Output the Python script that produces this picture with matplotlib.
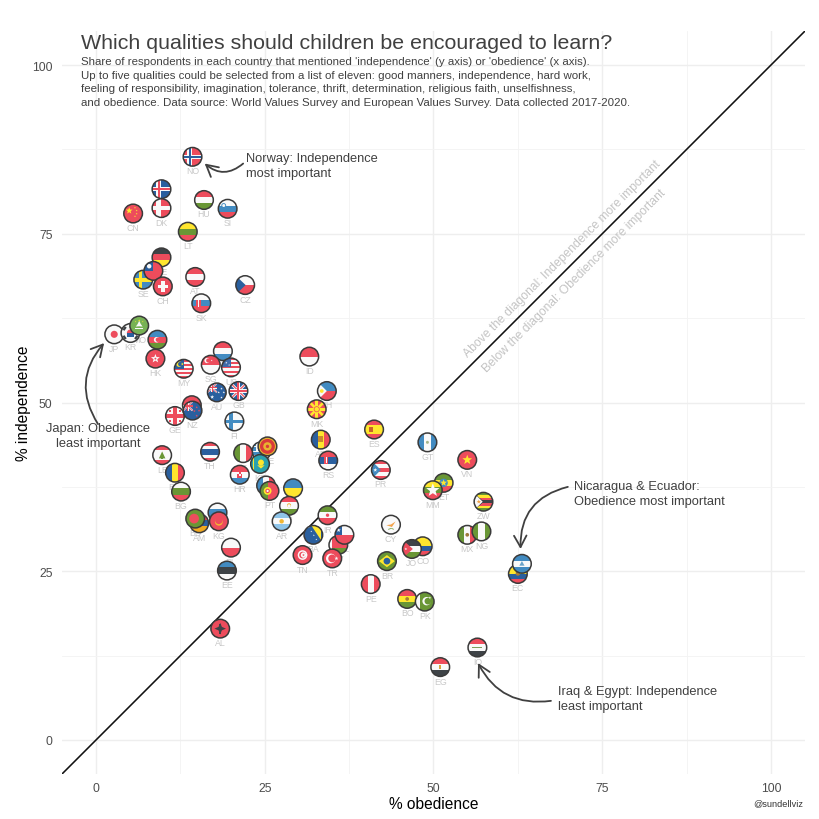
import numpy as np
import matplotlib
matplotlib.use("Agg")
import matplotlib.pyplot as plt
from matplotlib.patches import Circle, Rectangle, Polygon, FancyArrowPatch
from matplotlib.transforms import Affine2D

plt.rcParams["font.family"] = ["Liberation Sans", "DejaVu Sans"]

# draw order matters, later countries sit on top. XA and XB are hidden behind NZ and PT, codes unreadable
codes = ["XA", "GE", "NZ", "JP", "KR", "MO", "AZ", "HK", "DE", "SE", "TW", "CH",
         "NL", "SG", "US", "GR", "IT", "KZ", "ME", "XB", "PT", "HR", "UA", "TJ", "AR",
         "RU", "KG", "AM", "BD", "BY", "CL", "TR", "CO", "JO", "BO", "PK", "ET", "MM",
         "MX", "NG", "EC", "NI", "NO", "IS", "DK", "CN", "HU", "SI", "LT", "AT", "CZ",
         "SK", "MY", "AU", "GB", "FI", "LB", "TH", "RO", "BG", "PL", "EE", "AL", "BA",
         "TN", "ID", "PH", "MK", "AD", "RS", "ES", "PR", "IR", "CY", "BR", "PE", "GT",
         "VN", "ZW", "IQ", "EG"]
obedience = [14.2, 11.7, 14.3, 2.7, 5.1, 6.4, 9.1, 8.8, 9.7, 7.0, 8.5, 9.9,
             18.8, 17.0, 20.0, 24.5, 21.8, 24.3, 25.4, 25.2, 25.7, 21.3, 29.2, 28.6, 27.5,
             18.0, 18.2, 15.3, 14.7, 35.9, 36.8, 35.0, 48.4, 46.8, 46.1, 48.7, 51.5, 49.9,
             55.0, 57.1, 62.5, 63.1, 14.3, 9.7, 9.7, 5.5, 16.0, 19.5, 13.6, 14.7, 22.1,
             15.6, 13.0, 17.9, 21.1, 20.5, 9.8, 16.9, 11.7, 12.6, 20.0, 19.4, 18.4, 32.2,
             30.6, 31.6, 34.2, 32.7, 33.3, 34.4, 41.2, 42.2, 34.3, 43.7, 43.1, 40.7, 49.1,
             55.0, 57.4, 56.5, 51.0]
independence = [49.6, 48.0, 48.8, 60.1, 60.3, 61.4, 59.3, 56.5, 71.5, 68.2, 69.5, 67.2,
                57.6, 55.6, 55.2, 42.8, 42.5, 40.9, 43.5, 37.7, 36.9, 39.3, 37.3, 34.7, 32.4,
                33.7, 32.4, 32.1, 32.8, 28.9, 30.4, 26.9, 28.7, 28.3, 20.9, 20.5, 38.1, 37.0,
                30.4, 30.9, 24.6, 26.1, 86.4, 81.6, 78.8, 78.0, 80.0, 78.7, 75.3, 68.6, 67.4,
                64.7, 55.0, 51.5, 51.7, 47.2, 42.2, 42.7, 39.6, 36.8, 28.5, 25.1, 16.5, 30.4,
                27.4, 56.8, 51.7, 49.0, 44.5, 41.4, 46.0, 40.0, 33.3, 31.9, 26.5, 23.1, 44.1,
                41.5, 35.3, 13.7, 10.8]
hidden_labels = ["XA", "XB"]

tick_values = [0, 25, 50, 75, 100]
minor_values = [12.5, 37.5, 62.5, 87.5]

title = "Which qualities should children be encouraged to learn?"
subtitle_lines = ["Share of respondents in each country that mentioned 'independence' (y axis) or 'obedience' (x axis).",
                  "Up to five qualities could be selected from a list of eleven: good manners, independence, hard work,",
                  "feeling of responsibility, imagination, tolerance, thrift, determination, religious faith, unselfishness,",
                  "and obedience. Data source: World Values Survey and European Values Survey. Data collected 2017-2020."]

R, B, LB, W, G, Y, K, O = "#ed4c5c", "#2a5f9e", "#428bc1", "#f9f9f9", "#699635", "#ffe62e", "#3e4347", "#f7a329"


def rect(x0, y0, x1, y1, c):
    return [Rectangle((x0, y0), x1 - x0, y1 - y0, fc=c, lw=0)]


def hs(*cols, w=None):
    w = w or [1] * len(cols)
    edges = 1 - 2 * np.cumsum([0] + list(w)) / sum(w)
    out = []
    for i, c in enumerate(cols):
        out += rect(-1, edges[i + 1], 1, edges[i], c)
    return out


def vs(*cols, w=None):
    w = w or [1] * len(cols)
    edges = -1 + 2 * np.cumsum([0] + list(w)) / sum(w)
    out = []
    for i, c in enumerate(cols):
        out += rect(edges[i], -1, edges[i + 1], 1, c)
    return out


def disc(x, y, r, c):
    return [Circle((x, y), r, fc=c, lw=0)]


def poly(pts, c):
    return [Polygon(pts, closed=True, fc=c, lw=0)]


def star(x, y, r, c, n=5):
    a = np.pi / 2 + np.arange(2 * n) * np.pi / n
    rr = np.where(np.arange(2 * n) % 2 == 0, r, r * 0.42)
    return poly(np.c_[x + rr * np.cos(a), y + rr * np.sin(a)], c)


def bar(x0, y0, x1, y1, w, c):
    d = np.array([y1 - y0, x0 - x1], dtype=float)
    d = d / np.hypot(*d) * w / 2
    return poly([(x0 + d[0], y0 + d[1]), (x1 + d[0], y1 + d[1]),
                 (x1 - d[0], y1 - d[1]), (x0 - d[0], y0 - d[1])], c)


def crescent(x, y, r, c, bg, dx=0.13):
    return disc(x, y, r, c) + disc(x + dx, y, r * 0.8, bg)


def nordic(bg, cross, inner=None):
    out = rect(-1, -1, 1, 1, bg) + rect(-1, -0.24, 1, 0.24, cross) + rect(-0.55, -1, -0.07, 1, cross)
    if inner:
        out += rect(-1, -0.1, 1, 0.1, inner) + rect(-0.41, -1, -0.21, 1, inner)
    return out


def jack(x0=-1, y0=-1, x1=1, y1=1, s=1.0):
    cx, cy = (x0 + x1) / 2, (y0 + y1) / 2
    out = []
    out += bar(x0, y1, x1, y0, 0.3 * s, W) + bar(x0, y0, x1, y1, 0.3 * s, W)
    out += bar(x0, y1, x1, y0, 0.12 * s, R) + bar(x0, y0, x1, y1, 0.12 * s, R)
    out += rect(x0, cy - 0.2 * s, x1, cy + 0.2 * s, W) + rect(cx - 0.2 * s, y0, cx + 0.2 * s, y1, W)
    out += rect(x0, cy - 0.11 * s, x1, cy + 0.11 * s, R) + rect(cx - 0.11 * s, y0, cx + 0.11 * s, y1, R)
    return out


def stripes(c1, c2, n):
    return hs(*[c1 if i % 2 == 0 else c2 for i in range(n)])


FLAGS = {
    "XA": hs(R, W),
    "GE": rect(-1, -1, 1, 1, W) + rect(-1, -0.17, 1, 0.17, R) + rect(-0.17, -1, 0.17, 1, R)
          + rect(-0.62, 0.42, -0.42, 0.62, R) + rect(0.42, 0.42, 0.62, 0.62, R)
          + rect(-0.62, -0.62, -0.42, -0.42, R) + rect(0.42, -0.62, 0.62, -0.42, R),
    "NZ": rect(-1, -1, 1, 1, B) + rect(-1, 0, 0, 1, "#3f6aa8") + jack(-1, 0, 0, 1, 0.6)
          + star(0.45, 0.35, 0.14, R) + star(0.2, -0.05, 0.14, R) + star(0.7, 0.0, 0.14, R) + star(0.45, -0.55, 0.14, R),
    "JP": rect(-1, -1, 1, 1, W) + disc(0, 0, 0.38, R),
    "KR": rect(-1, -1, 1, 1, W) + disc(0, 0, 0.38, R) + rect(-0.38, -0.38, 0.38, -0.02, B)
          + bar(-0.75, 0.3, -0.5, 0.65, 0.25, K) + bar(0.5, -0.65, 0.75, -0.3, 0.25, K)
          + bar(0.5, 0.65, 0.75, 0.3, 0.25, K) + bar(-0.75, -0.3, -0.5, -0.65, 0.25, K),
    "MO": rect(-1, -1, 1, 1, "#77b255") + star(0, 0.1, 0.42, W, 3) + rect(-0.4, -0.4, 0.4, -0.28, W)
          + star(0, 0.55, 0.12, Y) + star(-0.38, 0.42, 0.09, Y) + star(0.38, 0.42, 0.09, Y),
    "AZ": hs(LB, R, G) + crescent(-0.08, 0, 0.3, W, R),
    "HK": rect(-1, -1, 1, 1, R) + star(0, 0, 0.5, W) + disc(0, 0, 0.1, R),
    "DE": hs(K, R, Y),
    "SE": rect(-1, -1, 1, 1, LB) + rect(-1, -0.2, 1, 0.2, Y) + rect(-0.5, -1, -0.1, 1, Y),
    "TW": rect(-1, -1, 1, 1, R) + rect(-1, 0, 0, 1, B) + disc(-0.45, 0.5, 0.24, W),
    "CH": rect(-1, -1, 1, 1, R) + rect(-0.55, -0.18, 0.55, 0.18, W) + rect(-0.18, -0.55, 0.18, 0.55, W),
    "NL": hs(R, W, LB),
    "SG": hs(R, W) + crescent(-0.4, 0.45, 0.28, W, R) + star(0.1, 0.45, 0.1, W),
    "US": stripes(R, W, 9) + rect(-1, 0, 0, 1, "#3f6aa8") + star(-0.5, 0.5, 0.12, W) + star(-0.2, 0.25, 0.1, W),
    "GR": stripes(LB, W, 7) + rect(-1, 0, 0, 1, LB) + rect(-1, 0.4, 0, 0.6, W) + rect(-0.6, 0, -0.4, 1, W),
    "IT": vs(G, W, R),
    "KZ": rect(-1, -1, 1, 1, "#2aa1ae") + disc(0.1, 0.15, 0.32, Y) + poly([(-0.3, -0.15), (0.5, -0.15), (0.1, -0.5)], Y)
          + rect(-0.78, -1, -0.6, 1, Y),
    "ME": rect(-1, -1, 1, 1, "#e8b330") + disc(0, 0, 0.8, "#d93a3a") + disc(0, 0, 0.45, "#e8b330") + disc(0, 0, 0.18, "#d93a3a"),
    "XB": vs(LB, W, R),
    "PT": vs(G, R, w=[2, 3]) + disc(-0.2, 0, 0.42, Y) + disc(-0.2, 0, 0.24, R) + disc(-0.2, 0, 0.12, W),
    "HR": hs(R, W, LB) + rect(-0.28, -0.35, 0.28, 0.4, R) + rect(-0.1, -0.15, 0.1, 0.05, W) + rect(-0.28, 0.05, -0.1, 0.25, W) + rect(0.1, 0.05, 0.28, 0.25, W),
    "UA": hs(LB, Y),
    "TJ": hs(R, W, G, w=[1, 1.2, 1]) + disc(0, 0.05, 0.22, "#e8b330") + disc(0, -0.02, 0.18, W),
    "AR": hs("#8fc4e8", W, "#8fc4e8") + disc(0, 0, 0.24, "#f2b632"),
    "RU": hs(W, LB, R),
    "KG": rect(-1, -1, 1, 1, R) + disc(0, -0.05, 0.42, "#f2b632") + disc(0, 0.1, 0.4, R) + disc(0, -0.05, 0.16, R),
    "AM": hs(R, B, "#f2a91e"),
    "BD": rect(-1, -1, 1, 1, G) + disc(-0.12, 0, 0.52, R),
    "BY": hs(R, G, w=[2, 1]) + rect(-1, -1, -0.72, 1, W),
    "CL": hs(W, R) + rect(-1, 0, -0.25, 1, B) + star(-0.62, 0.5, 0.24, W),
    "TR": rect(-1, -1, 1, 1, R) + crescent(-0.15, 0, 0.52, W, R, 0.14) + star(0.45, 0, 0.22, W),
    "CO": hs(Y, B, R, w=[2, 1, 1]),
    "JO": hs(K, W, G) + poly([(-1, 1), (-1, -1), (0.1, 0)], R) + star(-0.65, 0, 0.15, W),
    "BO": hs(R, Y, G) + disc(0, 0, 0.2, "#a87c36"),
    "PK": vs(W, G, w=[1, 3]) + crescent(0.2, 0.05, 0.45, W, G, 0.14) + star(0.55, 0.42, 0.14, W),
    "ET": hs(G, Y, R) + disc(0, 0, 0.45, LB) + star(0, 0, 0.38, Y),
    "MM": hs(Y, G, R) + star(0, 0, 0.75, W),
    "MX": vs(G, W, R) + disc(0, 0, 0.2, "#9c7b3c"),
    "NG": vs(G, W, G),
    "EC": hs(Y, B, R, w=[2, 1, 1]) + disc(0, 0.05, 0.24, "#a87c36"),
    "NI": hs(LB, W, LB) + poly([(-0.28, -0.2), (0.28, -0.2), (0, 0.3)], "#6aa3c9"),
    "NO": nordic(R, W, B),
    "IS": nordic(B, W, R),
    "DK": nordic(R, W),
    "CN": rect(-1, -1, 1, 1, R) + star(-0.42, 0.3, 0.38, Y) + star(0.2, 0.62, 0.11, Y) + star(0.38, 0.32, 0.11, Y)
          + star(0.38, -0.02, 0.11, Y) + star(0.2, -0.3, 0.11, Y),
    "HU": hs(R, W, G),
    "SI": hs(W, LB, R) + disc(-0.42, 0.35, 0.26, LB) + disc(-0.42, 0.35, 0.16, W),
    "LT": hs(Y, G, R),
    "AT": hs(R, W, R),
    "CZ": hs(W, R) + poly([(-1, 1), (-1, -1), (0.05, 0)], B),
    "SK": hs(W, LB, R) + rect(-0.55, -0.4, -0.05, 0.4, R) + rect(-0.35, -0.35, -0.25, 0.35, W),
    "MY": stripes(R, W, 9) + rect(-1, 0, 0.05, 1, B) + crescent(-0.5, 0.5, 0.3, Y, B) + star(-0.15, 0.5, 0.16, Y),
    "AU": rect(-1, -1, 1, 1, B) + rect(-1, 0, 0, 1, "#3f6aa8") + jack(-1, 0, 0, 1, 0.6)
          + star(-0.5, -0.5, 0.22, W) + star(0.5, 0.4, 0.13, W) + star(0.5, -0.55, 0.13, W) + star(0.2, 0, 0.13, W) + star(0.75, 0, 0.13, W),
    "GB": rect(-1, -1, 1, 1, B) + jack(),
    "FI": rect(-1, -1, 1, 1, W) + rect(-1, -0.2, 1, 0.2, LB) + rect(-0.55, -1, -0.15, 1, LB),
    "LB": hs(R, W, R, w=[1, 2, 1]) + poly([(-0.35, -0.35), (0.35, -0.35), (0, 0.4)], G) + rect(-0.07, -0.45, 0.07, -0.3, G),
    "TH": hs(R, W, B, W, R, w=[1, 1, 2, 1, 1]),
    "RO": vs(B, Y, R),
    "BG": hs(W, G, R),
    "PL": hs(W, R),
    "EE": hs(LB, K, W),
    "AL": rect(-1, -1, 1, 1, R) + star(0, 0, 0.62, K, 4) + rect(-0.12, -0.55, 0.12, 0.55, K),
    "BA": rect(-1, -1, 1, 1, B) + poly([(-0.25, 1.05), (0.8, 1.05), (0.8, -0.55)], Y)
          + star(-0.5, 0.8, 0.1, W) + star(-0.22, 0.36, 0.1, W) + star(0.05, -0.05, 0.1, W) + star(0.32, -0.5, 0.1, W),
    "TN": rect(-1, -1, 1, 1, R) + disc(0, 0, 0.52, W) + crescent(0, 0, 0.36, R, W, 0.1) + star(0.1, 0, 0.15, R),
    "ID": hs(R, W),
    "PH": hs(LB, R) + poly([(-1, 1), (-1, -1), (0.0, 0)], W) + disc(-0.55, 0, 0.2, Y),
    "MK": rect(-1, -1, 1, 1, R) + bar(0, 0, 0, 1, 0.3, Y) + bar(0, 0, 0, -1, 0.3, Y) + bar(0, 0, 1, 0, 0.3, Y) + bar(0, 0, -1, 0, 0.3, Y)
          + bar(-0.9, -0.9, 0.9, 0.9, 0.28, Y) + bar(-0.9, 0.9, 0.9, -0.9, 0.28, Y) + disc(0, 0, 0.32, R) + disc(0, 0, 0.24, Y),
    "AD": vs(B, Y, R) + rect(-0.25, -0.3, 0.25, 0.35, "#c98a2c"),
    "RS": hs(R, B, W) + rect(-0.42, -0.35, -0.02, 0.4, R) + rect(-0.28, -0.3, -0.16, 0.35, W),
    "ES": hs(R, Y, R, w=[1, 2, 1]) + rect(-0.5, -0.3, -0.1, 0.3, "#c9622c"),
    "PR": stripes(R, W, 5) + poly([(-1, 1), (-1, -1), (0, 0)], LB) + star(-0.6, 0, 0.22, W),
    "IR": hs(G, W, R) + disc(0, 0, 0.18, R),
    "CY": rect(-1, -1, 1, 1, W) + poly([(-0.5, -0.05), (0.0, 0.02), (0.5, 0.35), (0.1, -0.25)], "#f2a24a")
          + bar(-0.3, -0.5, 0.05, -0.4, 0.08, G) + bar(0.3, -0.5, 0.05, -0.4, 0.08, G),
    "BR": rect(-1, -1, 1, 1, G) + poly([(-0.85, 0), (0, 0.65), (0.85, 0), (0, -0.65)], Y) + disc(0, 0, 0.36, B),
    "PE": vs(R, W, R),
    "GT": vs(LB, W, LB) + disc(0, 0, 0.16, "#a6b58a"),
    "VN": rect(-1, -1, 1, 1, R) + star(0, 0, 0.55, Y),
    "ZW": hs(G, Y, R, K, R, Y, G) + poly([(-1.05, 0.95), (-1.05, -0.95), (0.05, 0)], K) + poly([(-1, 0.9), (-1, -0.9), (-0.08, 0)], W) + star(-0.5, 0, 0.24, "#f2a24a"),
    "IQ": hs(R, W, K) + rect(-0.55, -0.1, 0.55, 0.1, "#7d9e5a"),
    "EG": hs(R, W, K) + rect(-0.1, -0.18, 0.1, 0.18, "#d6a640"),
}

fig = plt.figure(figsize=(8.2, 8.2), dpi=100)
ax = fig.add_axes([62.25 / 820, (820 - 774.75) / 820, 742.5 / 820, 742.5 / 820])
ax.set_xlim(-5, 105)
ax.set_ylim(-5, 105)

ax.set_xticks(tick_values)
ax.set_yticks(tick_values)
ax.set_xticks(minor_values, minor=True)
ax.set_yticks(minor_values, minor=True)
ax.grid(True, which="major", color="#eeeeee", lw=1.0)
ax.grid(True, which="minor", color="#f3f3f3", lw=0.6)
ax.set_axisbelow(True)
ax.tick_params(which="both", length=0)
ax.tick_params(axis="x", labelsize=8.8, labelcolor="#4d4d4d", pad=6)
ax.tick_params(axis="y", labelsize=8.8, labelcolor="#4d4d4d", pad=7)
for s in ax.spines.values():
    s.set_visible(False)

ax.set_xlabel("% obedience", fontsize=11.2, color="black")
ax.set_ylabel("% independence", fontsize=11.2, color="black")
ax.xaxis.set_label_coords(0.5, -0.0407)
ax.yaxis.set_label_coords(-0.052, 0.5)
ax.xaxis.label.set_verticalalignment("center")
ax.yaxis.label.set_verticalalignment("center")

ax.plot([-5, 105], [-5, 105], color="#111111", lw=1.15, zorder=2)

ax.text(69.1, 71.4, "Above the diagonal: Independence more important", rotation=45, rotation_mode="anchor",
        ha="center", va="center", fontsize=8.7, color="#c4c4c4", zorder=2)
ax.text(70.9, 68.1, "Below the diagonal: Obedience more important", rotation=45, rotation_mode="anchor",
        ha="center", va="center", fontsize=8.7, color="#c4c4c4", zorder=2)

R_FLAG = 1.38
for i, (code, ob, ind) in enumerate(zip(codes, obedience, independence)):
    if code not in hidden_labels:
        ax.text(ob, ind - 2.07, code, ha="center", va="center", fontsize=6.3, color="#c8c8c8", zorder=3)
    z = 4 + i * 0.01
    tr = Affine2D().scale(R_FLAG).translate(ob, ind) + ax.transData
    base = Circle((0, 0), 1, transform=tr)
    for p in FLAGS[code]:
        p.set_transform(tr)
        p.set_zorder(z)
        ax.add_patch(p)
        p.set_clip_path(base)
    ax.add_patch(Circle((0, 0), 1, transform=tr, fc="none", ec="#3a3a3a", lw=1.1, zorder=z + 0.001))

ax.set_xlim(-5, 105)
ax.set_ylim(-5, 105)

notes = [
    ("Norway: Independence\nmost important", 22.2, 85.1, "left"),
    ("Japan: Obedience\nleast important", 0.3, 45.15, "center"),
    ("Nicaragua & Ecuador:\nObedience most important", 70.8, 36.5, "left"),
    ("Iraq & Egypt: Independence\nleast important", 68.4, 6.15, "left"),
]
for txt, nx, ny, ha in notes:
    ax.text(nx, ny, txt, ha=ha, va="center", fontsize=9.3, color="#404040", linespacing=1.3, zorder=6)

arrows = [
    ((21.8, 85.4), (16.1, 85.4), -0.42),
    ((0.3, 46.8), (1.2, 58.8), -0.37),
    ((69.9, 37.5), (62.9, 28.3), 0.4),
    ((67.4, 5.8), (56.6, 11.4), -0.35),
]
for start, end, rad in arrows:
    ax.add_patch(FancyArrowPatch(start, end, connectionstyle=f"arc3,rad={rad}",
                                 arrowstyle="->,head_length=5.5,head_width=3", mutation_scale=1.5,
                                 color="#404040", lw=1.3, shrinkA=0, shrinkB=0, zorder=6))

fig.text(81 / 820, 1 - 43.5 / 820, title, fontsize=15.4, color="#404040", ha="left", va="center")
for line_no, line in enumerate(subtitle_lines):
    fig.text(81 / 820, 1 - (62 + line_no * 13.6) / 820, line, fontsize=8.25, color="#404040", ha="left", va="center")
fig.text(803 / 820, 1 - 804 / 820, "@sundellviz", fontsize=6.6, color="#333333", ha="right", va="center")

fig.savefig("out.png", dpi=100)
